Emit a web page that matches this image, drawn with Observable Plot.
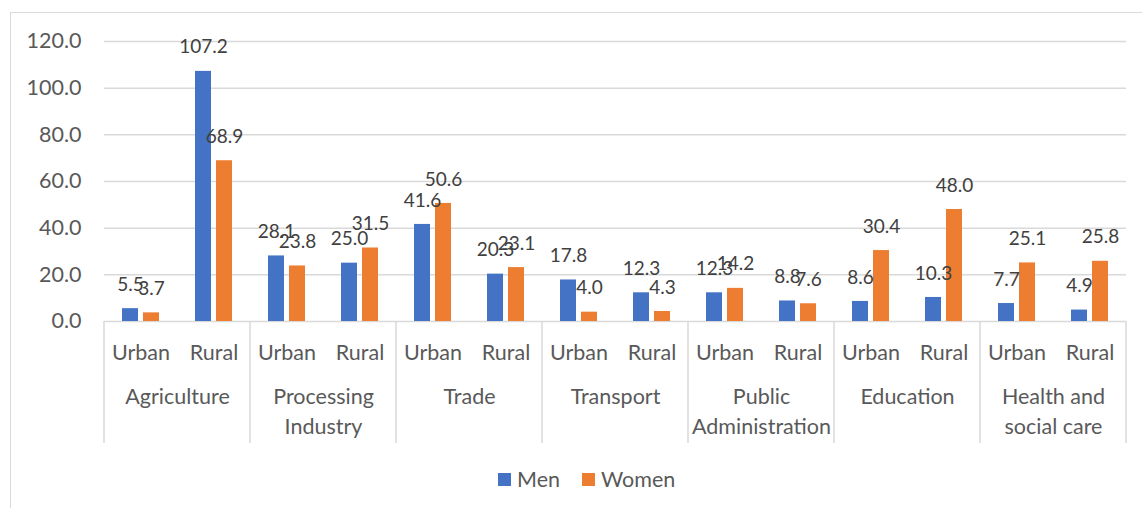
<!DOCTYPE html>
<html><head><meta charset="utf-8">
<script src="https://cdn.jsdelivr.net/npm/d3@7"></script>
<script src="https://cdn.jsdelivr.net/npm/@observablehq/plot@0.6"></script>
<style>
body{margin:0;background:#fff;font-family:Lato,"Open Sans",sans-serif;}
#wrap{position:relative;width:1142px;height:508px;overflow:hidden;background:#fff;}
#border{position:absolute;left:10px;top:12px;width:1200px;height:600px;border:1.5px solid #d9d9d9;box-sizing:border-box;}
#chart{position:absolute;left:0;top:0;}
#legend{position:absolute;left:498px;top:466px;height:26px;display:flex;align-items:center;font-size:21.5px;color:#595959;font-family:Lato,sans-serif;}
#legend .item{display:flex;align-items:center;margin-right:22px;}
#legend .sw{width:13px;height:13px;margin-right:6px;}
</style></head>
<body>
<div id="wrap">
  <div id="border"></div>
  <div id="chart"></div>
  <div id="legend"></div>
</div>
<script>
const sectors = ["Agriculture","Processing Industry","Trade","Transport","Public Administration","Education","Health and social care"];
const sectorLabels = ["Agriculture","Processing\nIndustry","Trade","Transport","Public\nAdministration","Education","Health and\nsocial care"];
const settings = ["Urban","Rural"];
const genders = ["Men","Women"];
const genderColors = ["#4472C4","#ED7D31"];
// values in order: sector by sector, Urban then Rural
const menValues   = [5.5, 107.2, 28.1, 25.0, 41.6, 20.3, 17.8, 12.3, 12.3, 8.8, 8.6, 10.3, 7.7, 4.9];
const womenValues = [3.7, 68.9, 23.8, 31.5, 50.6, 23.1, 4.0, 4.3, 14.2, 7.6, 30.4, 48.0, 25.1, 25.8];
const yTicks = [0, 20, 40, 60, 80, 100, 120];

const rows = [];
sectors.forEach((s, i) => settings.forEach((st, j) => {
  const k = i * 2 + j;
  rows.push({sector: s, setting: st, gender: "Men", value: menValues[k]});
  rows.push({sector: s, setting: st, gender: "Women", value: womenValues[k]});
}));
const menRows = rows.filter(d => d.gender === "Men");
const womenRows = rows.filter(d => d.gender === "Women");
const labelOf = new Map(sectors.map((s, i) => [s, sectorLabels[i]]));

const chart = Plot.plot({
  width: 1142, height: 460,
  marginLeft: 104, marginRight: 16, marginTop: 41, marginBottom: 139,
  style: {fontFamily: "Lato, sans-serif", fontSize: "21.5px", color: "#595959", background: "transparent", overflow: "visible"},
  fx: {domain: sectors, padding: 0, label: null},
  x: {domain: settings, padding: 0, label: null},
  y: {domain: [0, 120], label: null},
  color: {domain: genders, range: genderColors},
  marks: [
    Plot.gridY(yTicks.filter(v => v > 0), {stroke: "#d9d9d9", strokeOpacity: 1, strokeWidth: 1.5}),
    Plot.ruleY([0], {stroke: "#d9d9d9", strokeWidth: 1.5}),
    Plot.barY(menRows, {fx: "sector", x: "setting", y: "value", fill: "gender", insetLeft: 18, insetRight: 39}),
    Plot.barY(womenRows, {fx: "sector", x: "setting", y: "value", fill: "gender", insetLeft: 39, insetRight: 18}),
    Plot.text(menRows, {fx: "sector", x: "setting", y: "value", text: d => d.value.toFixed(1), dx: -10.5, dy: -24, fontSize: 19, fill: "#404040"}),
    Plot.text(womenRows, {fx: "sector", x: "setting", y: "value", text: d => d.value.toFixed(1), dx: 10.5, dy: -24, fontSize: 19, fill: "#404040"}),
    Plot.axisY({ticks: yTicks, tickFormat: d => d.toFixed(1), tickSize: 0, tickPadding: 23, fontSize: 21.5, fill: "#595959", label: null}),
    Plot.axisX({anchor: "bottom", tickSize: 0, tickPadding: 23, fontSize: 21.5, fill: "#595959", label: null}),
    Plot.axisFx({anchor: "bottom", tickSize: 0, tickPadding: 61, fontSize: 21.5, lineHeight: 1.4, fill: "#595959", label: null, tickFormat: s => labelOf.get(s)})
  ]
});
document.getElementById("chart").appendChild(chart);

// category dividers below the axis
const fx = chart.scale("fx");
const y = chart.scale("y");
const y0 = y.apply(0);
const edges = sectors.map(s => fx.apply(s));
edges.push(fx.apply(sectors[sectors.length - 1]) + fx.bandwidth);
d3.select(chart).append("g").selectAll("line").data(edges).join("line")
  .attr("x1", d => d).attr("x2", d => d)
  .attr("y1", y0).attr("y2", y0 + 122)
  .attr("stroke", "#d9d9d9").attr("stroke-width", 1.5);

// legend
const legend = d3.select("#legend");
genders.forEach((g, i) => {
  const it = legend.append("div").attr("class", "item");
  it.append("div").attr("class", "sw").style("background", genderColors[i]);
  it.append("span").text(g);
});
</script>
</body></html>
